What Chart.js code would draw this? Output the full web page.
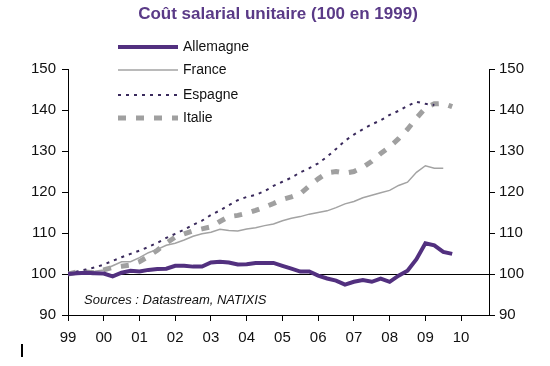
<!DOCTYPE html>
<html>
<head>
<meta charset="utf-8">
<script src="https://cdn.jsdelivr.net/npm/chart.js@4"></script>
<style>
  body{margin:0;background:#fff;}
  #wrap{width:550px;height:366px;position:relative;}
</style>
</head>
<body>
<div id="wrap"><canvas id="myChart" width="550" height="366"></canvas></div>
<script>
// quarterly points, 1999Q1 = 100
var quarters = [];
for (var i = 0; i < 44; i++) quarters.push(1999 + i * 0.25);

var allemagne = [100,100.2,100.3,100.2, 100.1,99.4,100.3,100.8, 100.6,101.0,101.2,101.3,
  102.0,102.0,101.8,101.8, 102.8,103.0,102.8,102.3, 102.4,102.7,102.7,102.7,
  102.0,101.3,100.6,100.6, 99.6,98.9,98.4,97.4, 98.1,98.5,98.1,98.9,
  98.1,99.6,100.8,103.6, 107.5,107.0,105.4,104.9];
var france = [100,100.3,100.5,100.7, 101.0,102.0,103.0,103.0, 104.0,105.2,106.0,107.0,
  107.5,108.3,109.2,109.8, 110.2,110.9,110.6,110.5, 111.0,111.3,111.8,112.2,
  113.0,113.6,114.0,114.6, 115.0,115.4,116.2,117.1, 117.7,118.6,119.2,119.8,
  120.4,121.6,122.4,124.8, 126.4,125.8,125.8];
var espagne = [100,100.6,101.1,101.6, 102.3,103.2,104.1,104.9, 105.7,106.6,107.6,108.8,
  109.8,110.8,112.0,113.0, 114.4,115.5,116.8,118.0, 118.8,119.3,120.2,121.5,
  122.5,123.5,124.8,125.8, 127.0,128.6,130.5,132.5, 134.0,135.3,136.5,137.5,
  138.8,139.8,141.0,142.0, 141.5,141.2];
var italie = [100,100.5,100.5,100.3, 101.0,101.6,101.9,102.2, 103.0,104.3,105.8,107.5,
  109.0,109.8,110.5,111.0, 111.5,112.8,114.0,114.3, 114.8,115.5,116.3,117.2,
  118.2,118.8,119.6,121.5, 123.2,124.7,125.0,124.6, 125.0,126.0,127.5,129.4,
  131.0,133.0,135.3,138.0, 140.5,141.5,141.6,140.8];

var seriesNames = ['Allemagne','France','Espagne','Italie'];
var yTicks = [90,100,110,120,130,140,150];

function pts(vals){
  return vals.map(function(v,i){ return {x: quarters[i], y: v}; });
}

var titlePlugin = {
  id: 'titleDraw',
  afterDraw: function(chart){
    var c = chart.ctx;
    c.save();
    c.fillStyle = '#5a3a87';
    c.font = 'bold 17px "Liberation Sans", Arial, sans-serif';
    c.textAlign = 'center';
    c.textBaseline = 'middle';
    c.fillText('Coût salarial unitaire (100 en 1999)', 278, 14);

    // legend
    c.textAlign = 'left';
    c.font = '14px "Liberation Sans", Arial, sans-serif';
    c.fillStyle = '#111';
    var rows = [47, 70, 95, 118];
    chart.data.datasets.forEach(function(ds, k){
      c.beginPath();
      c.strokeStyle = ds.borderColor;
      c.lineWidth = ds.borderWidth;
      c.setLineDash(ds.borderDash || []);
      c.moveTo(118, rows[k]);
      c.lineTo(178, rows[k]);
      c.stroke();
      c.setLineDash([]);
      c.fillText(seriesNames[k], 183, rows[k]);
    });

    c.font = 'italic 13px "Liberation Sans", Arial, sans-serif';
    c.fillStyle = '#111';
    c.fillText('Sources : Datastream, NATIXIS', 84, 300);

    // stray mark at bottom left
    c.beginPath();
    c.strokeStyle = '#000';
    c.lineWidth = 2;
    c.moveTo(22, 344);
    c.lineTo(22, 357);
    c.stroke();
    c.restore();
  }
};

var tickFont = {family: '"Liberation Sans", Arial, sans-serif', size: 15};

new Chart(document.getElementById('myChart'), {
  type: 'line',
  data: {
    datasets: [
      {label: seriesNames[0], data: pts(allemagne), borderColor: '#52307f', borderWidth: 4, pointRadius: 0, tension: 0},
      {label: seriesNames[1], data: pts(france), borderColor: '#a3a3a3', borderWidth: 1.5, pointRadius: 0, tension: 0},
      {label: seriesNames[2], data: pts(espagne), borderColor: '#3a2a5c', borderWidth: 2, borderDash: [3,5], pointRadius: 0, tension: 0},
      {label: seriesNames[3], data: pts(italie), borderColor: '#a0a0a0', borderWidth: 5, borderDash: [8,10], pointRadius: 0, tension: 0}
    ]
  },
  options: {
    responsive: false,
    animation: false,
    layout: {padding: {top: 69, right: 0, left: 0, bottom: 0}},
    plugins: {legend: {display: false}, tooltip: {enabled: false}},
    scales: {
      x: {
        type: 'linear',
        min: 1999, max: 2010.78,
        ticks: {
          stepSize: 1, includeBounds: false, color: '#111', font: tickFont, padding: 8, maxRotation: 0,
          callback: function(v){ return String(v % 100).padStart(2, '0'); }
        },
        grid: {drawOnChartArea: false, tickLength: 6, color: '#000', tickColor: '#000'},
        border: {color: '#000', width: 1},
        afterFit: function(s){ s.height = 51; }
      },
      y: {
        position: 'left',
        min: 90, max: 150,
        afterBuildTicks: function(s){ s.ticks = yTicks.map(function(v){ return {value: v}; }); },
        ticks: {color: '#111', font: tickFont, padding: 6},
        grid: {
          tickLength: 6, tickColor: '#000',
          color: function(ctx){ return ctx.tick && ctx.tick.value === 100 ? '#000' : 'rgba(0,0,0,0)'; }
        },
        border: {color: '#000', width: 1},
        afterFit: function(s){ s.width = 68; }
      },
      y2: {
        position: 'right',
        min: 90, max: 150,
        afterBuildTicks: function(s){ s.ticks = yTicks.map(function(v){ return {value: v}; }); },
        ticks: {color: '#111', font: tickFont, padding: 4},
        grid: {drawOnChartArea: false, tickLength: 6, tickColor: '#000'},
        border: {color: '#000', width: 1},
        afterFit: function(s){ s.width = 61; }
      }
    }
  },
  plugins: [titlePlugin]
});
</script>
</body>
</html>
